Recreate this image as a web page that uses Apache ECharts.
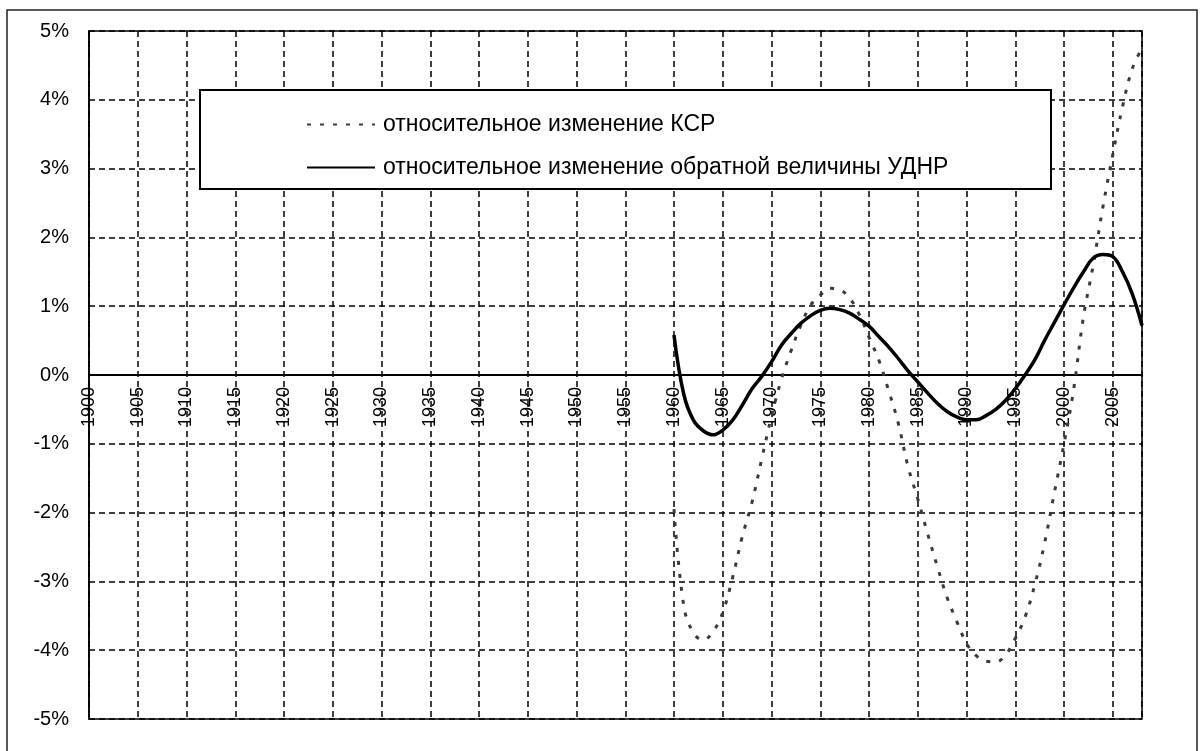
<!DOCTYPE html>
<html>
<head>
<meta charset="utf-8">
<script src="https://cdn.jsdelivr.net/npm/echarts@6/dist/echarts.min.js"></script>
<style>
html,body{margin:0;padding:0;background:#fff;}
#chart{width:1204px;height:751px;}
</style>
</head>
<body>
<div id="chart"></div>
<script>
var years = [1960,1961,1962,1963,1964,1965,1966,1967,1968,1969,
             1970,1971,1972,1973,1974,1975,1976,1977,1978,1979,
             1980,1981,1982,1983,1984,1985,1986,1987,1988,1989,
             1990,1991,1992,1993,1994,1995,1996,1997,1998,1999,
             2000,2001,2002,2003,2004,2005,2006,2007,2008];
var ksr = [-1.95,-3.35,-3.75,-3.85,-3.73,-3.45,-2.95,-2.35,-1.85,-1.22,
           -0.60,-0.07,0.35,0.72,1.01,1.16,1.26,1.24,1.12,0.88,
           0.55,0.22,-0.22,-0.70,-1.33,-1.80,-2.30,-2.78,-3.23,-3.58,
           -3.90,-4.08,-4.16,-4.17,-4.07,-3.83,-3.52,-3.05,-2.45,-1.72,
           -1.00,-0.20,0.85,1.60,2.45,3.20,3.90,4.45,4.75];
var udnr = [0.58,-0.28,-0.66,-0.81,-0.87,-0.80,-0.66,-0.44,-0.20,-0.02,
            0.19,0.43,0.60,0.75,0.86,0.94,0.97,0.95,0.90,0.81,
            0.71,0.56,0.41,0.24,0.06,-0.10,-0.26,-0.41,-0.53,-0.61,
            -0.65,-0.65,-0.59,-0.50,-0.37,-0.20,0.00,0.22,0.50,0.76,
            1.02,1.27,1.50,1.70,1.75,1.72,1.50,1.18,0.72];
var seriesNames = ['относительное изменение КСР','относительное изменение обратной величины УДНР'];
var xMin = 1900, xMax = 2008, xStep = 5;
var yMin = -5, yMax = 5, yStep = 1;

function pairs(vals){ return years.map(function(y,i){ return [y, vals[i]]; }); }

var gridTop = 31, gridBottom = 32, chartH = 751;
var plotH = chartH - gridTop - gridBottom;
// distance from the bottom edge of the plot up to the zero line
var zeroOffset = plotH * (0 - yMin) / (yMax - yMin);

var chart = echarts.init(document.getElementById('chart'));
var font = 'Liberation Sans, Arial, sans-serif';
chart.setOption({
  animation:false,
  backgroundColor:'#fff',
  grid:{left:89, top:gridTop, right:62, bottom:gridBottom, show:true, borderColor:'#000', borderWidth:1.5, backgroundColor:'transparent'},
  graphic:[
    {type:'rect', shape:{x:7, y:10, width:1190, height:800}, style:{fill:'none', stroke:'#222', lineWidth:1.5}, z:-10},
    {type:'rect', shape:{x:200, y:90, width:851, height:99}, style:{fill:'#fff', stroke:'#000', lineWidth:2}, z:5}
  ],
  legend:{
    orient:'vertical', left:306, top:113, padding:0, itemWidth:68, itemHeight:14, itemGap:20, z:10,
    itemStyle:{opacity:0},
    textStyle:{fontFamily:font, fontSize:23, color:'#000', padding:[0,0,0,3]},
    data:seriesNames
  },
  xAxis:{
    type:'value', min:xMin, max:xMax, interval:xStep,
    offset:-zeroOffset,
    axisLine:{onZero:false, lineStyle:{color:'#000', width:2}},
    axisTick:{show:false},
    axisLabel:{rotate:90, margin:12, color:'#000', fontFamily:font, fontSize:18, padding:[0,0,0,0],
      formatter:function(v){ return (v % 5 === 0 && v < xMax) ? String(v) : ''; }},
    splitLine:{show:true, lineStyle:{color:'#000', width:1.5, type:[6,4]}}
  },
  yAxis:{
    type:'value', min:yMin, max:yMax, interval:yStep,
    axisLine:{show:true, lineStyle:{color:'#000', width:1.5}},
    axisTick:{show:false},
    axisLabel:{margin:20, color:'#000', fontFamily:font, fontSize:20, formatter:function(v){ return v + '%'; }},
    splitLine:{show:true, lineStyle:{color:'#000', width:1.5, type:[6,4]}}
  },
  series:[
    {name:seriesNames[0], type:'line', data:pairs(ksr), smooth:0.4, symbol:'none',
     itemStyle:{color:'#3a3a3a'},
     lineStyle:{color:'#3a3a3a', width:3, type:[4,9]}, z:3},
    {name:seriesNames[1], type:'line', data:pairs(udnr), smooth:0.4, symbol:'none',
     itemStyle:{color:'#000'},
     lineStyle:{color:'#000', width:3.5}, z:4}
  ]
});
</script>
</body>
</html>
